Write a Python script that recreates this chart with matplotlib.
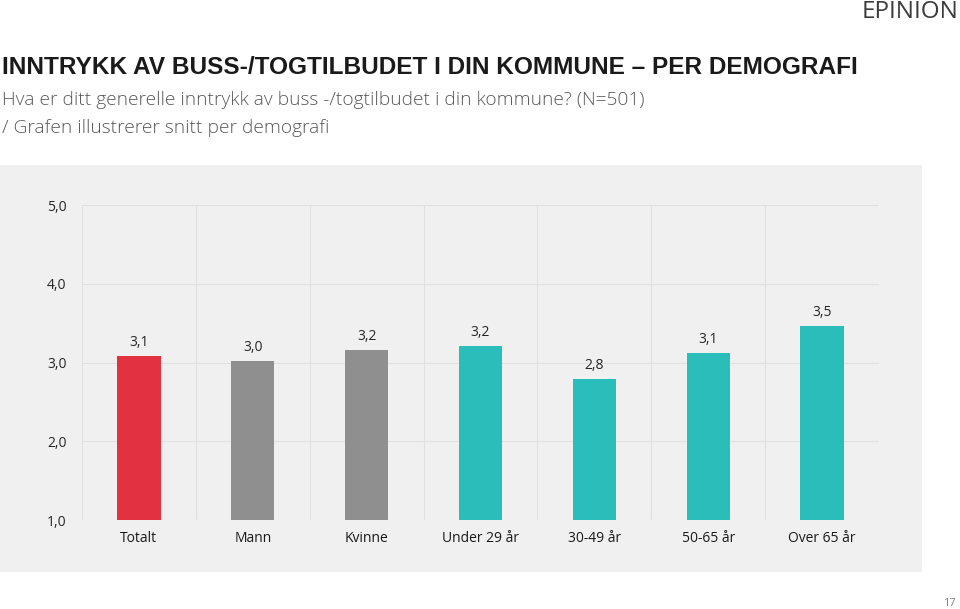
import matplotlib
matplotlib.use("Agg")
import matplotlib.pyplot as plt
from matplotlib.patches import Rectangle
from matplotlib.ticker import FixedLocator

plt.rcParams['font.family'] = ['Open Sans', 'DejaVu Sans']

# data
categories = ['Totalt', 'Mann', 'Kvinne', 'Under 29 år', '30-49 år', '50-65 år', 'Over 65 år']
values = [3.08, 3.02, 3.16, 3.21, 2.79, 3.12, 3.46]
labels = ['3,1', '3,0', '3,2', '3,2', '2,8', '3,1', '3,5']
colors = ['#E2313F', '#8F8F8F', '#8F8F8F', '#2BBDB9', '#2BBDB9', '#2BBDB9', '#2BBDB9']
yticks = [1, 2, 3, 4, 5]
ytick_labels = ['1,0', '2,0', '3,0', '4,0', '5,0']

fig = plt.figure(figsize=(9.6, 6.09), dpi=100)
fig.patch.set_facecolor('white')

# grey panel behind the chart
fig.patches.append(Rectangle((0, 0.061), 0.9604, 0.668, transform=fig.transFigure,
                             facecolor='#F0F0F0', edgecolor='none', zorder=-5))

ax = fig.add_axes([0.0854, 0.1461, 0.8302, 0.5172])
ax.set_zorder(2)
ax.set_facecolor('#F0F0F0')
x = range(len(categories))
ax.bar(x, [v - 1 for v in values], bottom=1, width=0.38, color=colors, zorder=3)
for i, (v, lab) in enumerate(zip(values, labels)):
    ax.text(i, v + 0.08, lab, ha='center', va='bottom', fontsize=10, color='#262626')

ax.set_xlim(-0.5, len(categories) - 0.5)
ax.set_ylim(1, 5)
ax.set_yticks(yticks)
ax.set_yticklabels(ytick_labels, fontsize=10, color='#262626')
ax.set_xticks(list(x))
ax.set_xticklabels(categories, fontsize=10, color='#1a1a1a')
ax.xaxis.set_minor_locator(FixedLocator([i - 0.5 for i in range(len(categories) + 1)]))
ax.tick_params(axis='both', which='both', length=0)
ax.tick_params(axis='x', pad=8)
ax.tick_params(axis='y', pad=11)
ax.grid(True, axis='y', color='#E0E0E0', linewidth=0.8, zorder=0)
ax.grid(True, axis='x', which='minor', color='#E0E0E0', linewidth=0.8, zorder=0)
for s in ax.spines.values():
    s.set_visible(False)

# header texts
fig.text(0.002, 1 - 68 / 609, 'INNTRYKK AV BUSS-/TOGTILBUDET I DIN KOMMUNE \u2013 PER DEMOGRAFI',
         fontsize=17.6, fontweight='bold', color='#1a1a1a', va='center',
         family=['Liberation Sans', 'DejaVu Sans'])
fig.text(0.002, 1 - 100 / 609, 'Hva er ditt generelle inntrykk av buss -/togtilbudet i din kommune? (N=501)',
         fontsize=13.8, fontweight='light', color='#595959', va='center')
fig.text(0.002, 1 - 128 / 609, '/ Grafen illustrerer snitt per demografi',
         fontsize=13.8, fontweight='light', color='#595959', va='center')

# logo and page number
fig.text(0.998, 1 - 12 / 609, 'EPINION', fontsize=17.5, color='#3c3c3c', ha='right', va='center')
fig.text(0.996, 1 - 603 / 609, '17', fontsize=8, color='#7f7f7f', ha='right', va='center')

fig.savefig('out.png', dpi=100)
